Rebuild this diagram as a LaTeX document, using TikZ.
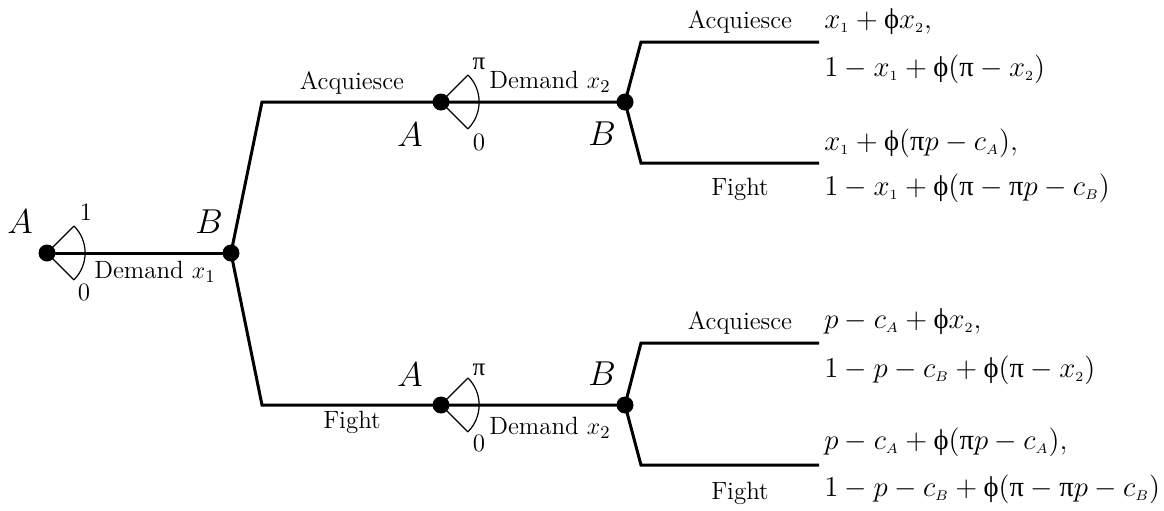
\documentclass[tikz,border=0pt]{standalone}
\usepackage{fontspec}
\usetikzlibrary{calc}
\newfontfamily\grkfont{Liberation Serif}
\newcommand{\gphi}{\mbox{\grkfont ϕ}}
\newcommand{\gpi}{\mbox{\grkfont π}}
\newcommand{\sub}[1]{_{\scriptscriptstyle #1}}
\tikzset{
  dot/.style={circle,fill=black,inner sep=0pt,minimum size=8.5pt},
  branch/.style={line width=1.5pt,line join=miter},
  wedge/.style={line width=0.6pt},
  player/.style={font=\fontsize{17}{19}\selectfont},
  lbl/.style={font=\fontsize{12.5}{14}\selectfont,inner sep=0pt},
  payoff/.style={anchor=base west,inner sep=0pt,font=\fontsize{14.3}{17}\selectfont}
}
\begin{document}
\begin{tikzpicture}[x=0.5pt,y=-0.5pt]
\useasboundingbox (0,0) rectangle (1164,510);

% decision nodes
\node[dot] (a0) at (47,253) {};
\node[dot] (b0) at (231,253) {};
\node[dot] (a1) at (441,102) {};
\node[dot] (b1) at (625,102) {};
\node[dot] (a2) at (441,405) {};
\node[dot] (b2) at (625,405) {};

% bends and terminal ends
\coordinate (k1) at (262,102);
\coordinate (k2) at (262,405);
\coordinate (k11) at (641,42);
\coordinate (e11) at (819,42);
\coordinate (k12) at (641,163);
\coordinate (e12) at (819,163);
\coordinate (k21) at (641,343);
\coordinate (e21) at (819,343);
\coordinate (k22) at (641,465);
\coordinate (e22) at (819,465);

% branches
\draw[branch] (a0.center) -- (b0.center);
\draw[branch] (b0.center) -- (k1) -- (a1.center) -- (b1.center);
\draw[branch] (b0.center) -- (k2) -- (a2.center) -- (b2.center);
\draw[branch] (b1.center) -- (k11) -- (e11);
\draw[branch] (b1.center) -- (k12) -- (e12);
\draw[branch] (b2.center) -- (k21) -- (e21);
\draw[branch] (b2.center) -- (k22) -- (e22);

% continuous choice wedges
\foreach \n in {a0,a1,a2}{
  \draw[wedge] ($(\n.center)+(27,-27)$) -- (\n.center) -- ($(\n.center)+(27,27)$);
  \draw[wedge] ($(\n.center)+(27,-27)$) arc[start angle=-45,end angle=45,radius=38];
}

% players
\node[player] (pa0) at (20,222) {$A$};
\node[player] (pb0) at (209,222) {$B$};
\node[player] (pa1) at (410,135) {$A$};
\node[player] (pb1) at (602,134) {$B$};
\node[player] (pa2) at (410,375) {$A$};
\node[player] (pb2) at (602,374) {$B$};

% wedge bounds
\node[lbl] (h0) at (86,212) {1};
\node[lbl] (l0) at (84,292) {0};
\node[lbl] (h1) at (479,64) {\gpi};
\node[lbl] (l1) at (479,142) {0};
\node[lbl] (h2) at (479,370) {\gpi};
\node[lbl] (l2) at (479,443) {0};

% action labels
\node[lbl] (d0) at (155,272) {Demand $x_1$};
\node[lbl] (d1) at (550,82) {Demand $x_2$};
\node[lbl] (d2) at (550,428) {Demand $x_2$};
\node[lbl] (acq1) at (352,83) {Acquiesce};
\node[lbl] (fig1) at (352,422) {Fight};
\node[lbl] (acq11) at (740,22) {Acquiesce};
\node[lbl] (fig12) at (740,189) {Fight};
\node[lbl] (acq21) at (740,323) {Acquiesce};
\node[lbl] (fig22) at (740,493) {Fight};

% payoffs
\node[payoff] (p11a) at (824,28) {$x\sub1 + \gphi x\sub2,$};
\node[payoff] (p11b) at (824,76) {$1 - x\sub1 + \gphi(\gpi - x\sub2)$};
\node[payoff] (p12a) at (824,150) {$x\sub1 + \gphi(\gpi p - c\sub A),$};
\node[payoff] (p12b) at (824,195) {$1 - x\sub1 + \gphi(\gpi - \gpi p - c\sub B)$};
\node[payoff] (p21a) at (824,328) {$p - c\sub A + \gphi x\sub2,$};
\node[payoff] (p21b) at (824,377) {$1 - p - c\sub B + \gphi(\gpi - x\sub2)$};
\node[payoff] (p22a) at (824,449) {$p - c\sub A + \gphi(\gpi p - c\sub A),$};
\node[payoff] (p22b) at (824,496) {$1 - p - c\sub B + \gphi(\gpi - \gpi p - c\sub B)$};
\end{tikzpicture}
\end{document}
